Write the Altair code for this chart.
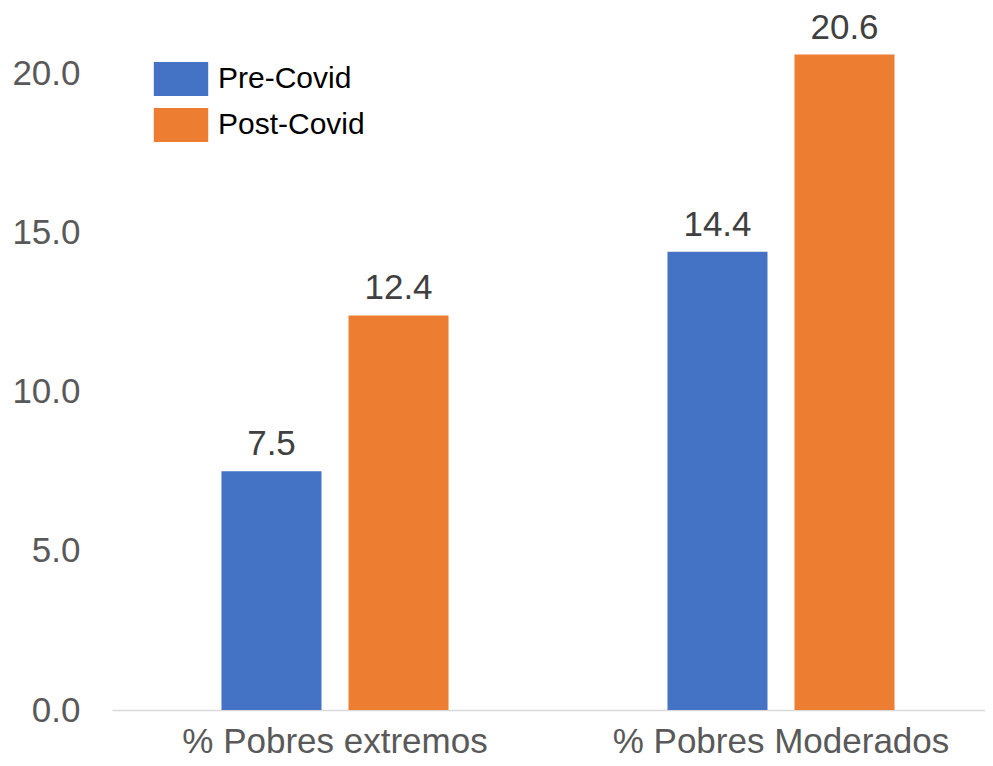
import altair as alt
import pandas as pd

categories = ["% Pobres extremos", "% Pobres Moderados"]
series = ["Pre-Covid", "Post-Covid"]
pre_covid = [7.5, 14.4]
post_covid = [12.4, 20.6]
colors = ["#4472C4", "#ED7D31"]
y_ticks = [0, 5, 10, 15, 20]

rows = []
for i, c in enumerate(categories):
    rows.append({"cat": c, "serie": series[0], "val": pre_covid[i]})
    rows.append({"cat": c, "serie": series[1], "val": post_covid[i]})
df = pd.DataFrame(rows)

FONT = "Liberation Sans"

x_enc = alt.X(
    "cat:N",
    sort=categories,
    scale=alt.Scale(range=[0, 892], paddingInner=0, paddingOuter=0),
    axis=alt.Axis(
        title=None, labelAngle=0, labelFont=FONT, labelFontSize=35,
        labelColor="#595959", ticks=False, labelPadding=14, labelBaseline="top",
        labelLimit=0, domainColor="#D9D9D9", domainWidth=1.5,
    ),
)
xoff_enc = alt.XOffset(
    "serie:N", sort=series,
    scale=alt.Scale(paddingInner=0.2126, paddingOuter=0.862),
)
y_enc = alt.Y(
    "val:Q",
    scale=alt.Scale(domain=[0, 22], nice=False),
    axis=alt.Axis(
        title=None, values=y_ticks, format=".1f", labelFont=FONT,
        labelFontSize=35, labelColor="#595959", ticks=False, domain=False,
        grid=False, labelPadding=32,
    ),
)

base = alt.Chart(df)

bars = base.mark_bar().encode(
    x=x_enc,
    xOffset=xoff_enc,
    y=y_enc,
    color=alt.Color(
        "serie:N",
        sort=series,
        scale=alt.Scale(domain=series, range=colors),
        legend=alt.Legend(
            title=None, orient="none", legendX=52, legendY=52,
            symbolType="M-1.6,-1L1.6,-1L1.6,1L-1.6,1Z",
            symbolSize=1156, symbolStrokeWidth=0,
            labelFont=FONT, labelFontSize=30, labelColor="black",
            labelOffset=20, rowPadding=12, padding=0,
        ),
    ),
)

labels = base.mark_text(
    dy=-16, font=FONT, fontSize=35, color="#404040", baseline="alphabetic"
).encode(
    x=x_enc,
    xOffset=xoff_enc,
    y=y_enc,
    text=alt.Text("val:Q", format=".1f"),
)

chart = (
    alt.layer(bars, labels)
    .properties(
        width=873, height=700,
        background="white",
        autosize=alt.AutoSizeParams(type="none"),
        padding={"left": 104, "top": 2, "right": 0, "bottom": 48},
    )
    .configure_view(strokeWidth=0, stroke="transparent")
)

chart.save("out.html", embed_options={"renderer": "svg", "actions": False})
